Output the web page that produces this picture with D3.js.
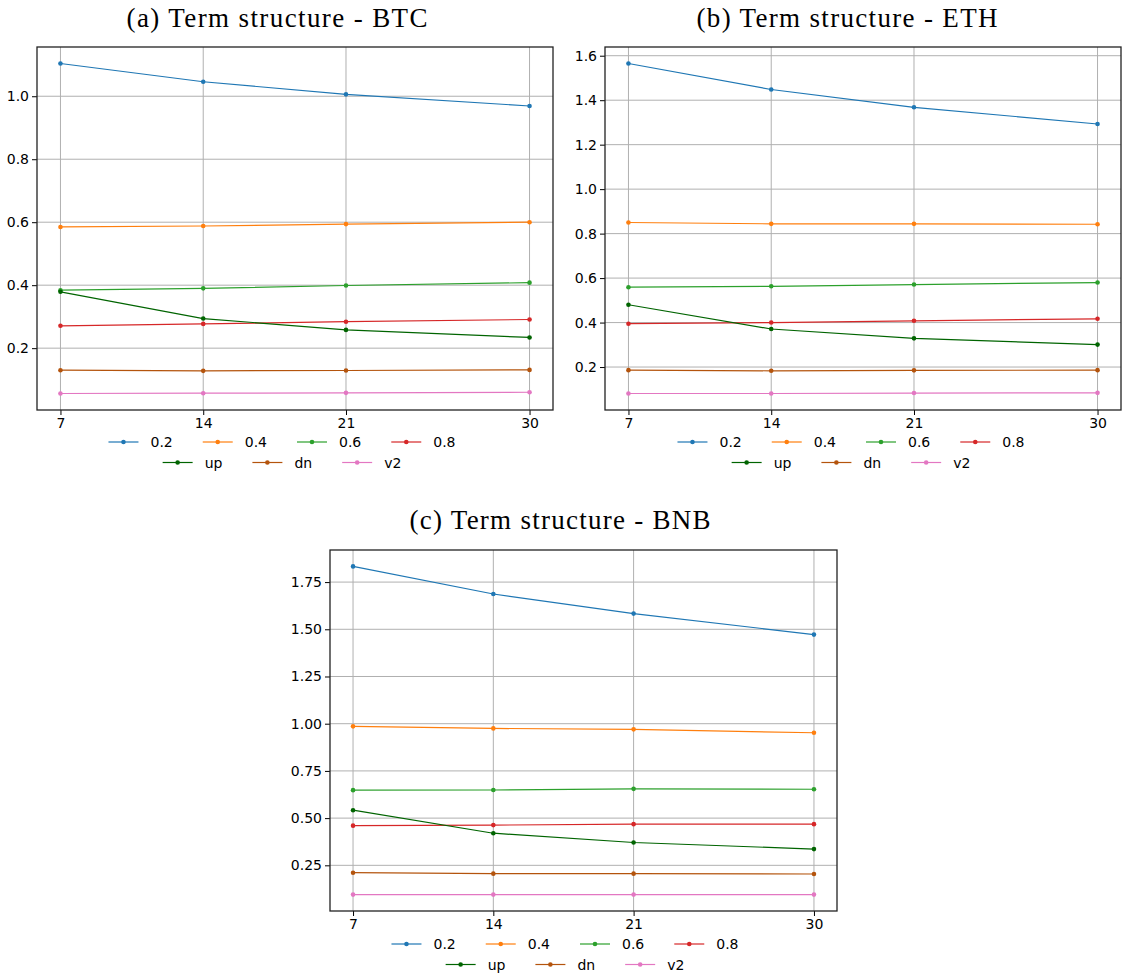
<!DOCTYPE html>
<html>
<head>
<meta charset="utf-8">
<script src="https://cdn.jsdelivr.net/npm/d3@7"></script>
<style>
  body { margin: 0; background: #fff; }
  svg { display: block; }
  .tick text { font-family: "DejaVu Sans", sans-serif; font-size: 14px; fill: #000; }
</style>
</head>
<body>
<svg id="fig" width="1123" height="978"></svg>
<script>
// maturities (days)
const maturities = [7, 14, 21, 30];
const seriesNames = ['0.2', '0.4', '0.6', '0.8', 'up', 'dn', 'v2'];
const seriesColors = ['#1f77b4', '#ff7f0e', '#2ca02c', '#d62728', '#006400', '#b4540d', '#e377c2'];

// BTC
const btc02 = [1.104, 1.046, 1.006, 0.969];
const btc04 = [0.585, 0.588, 0.594, 0.600];
const btc06 = [0.384, 0.390, 0.399, 0.408];
const btc08 = [0.271, 0.277, 0.284, 0.291];
const btcUp = [0.379, 0.294, 0.258, 0.234];
const btcDn = [0.130, 0.128, 0.129, 0.131];
const btcV2 = [0.056, 0.057, 0.058, 0.060];

// ETH
const eth02 = [1.565, 1.448, 1.368, 1.293];
const eth04 = [0.850, 0.844, 0.844, 0.842];
const eth06 = [0.559, 0.563, 0.571, 0.580];
const eth08 = [0.395, 0.400, 0.408, 0.417];
const ethUp = [0.480, 0.371, 0.329, 0.301];
const ethDn = [0.186, 0.183, 0.185, 0.186];
const ethV2 = [0.081, 0.081, 0.083, 0.084];

// BNB
const bnb02 = [1.833, 1.687, 1.583, 1.472];
const bnb04 = [0.986, 0.975, 0.970, 0.952];
const bnb06 = [0.648, 0.649, 0.655, 0.653];
const bnb08 = [0.460, 0.463, 0.468, 0.468];
const bnbUp = [0.542, 0.420, 0.371, 0.336];
const bnbDn = [0.211, 0.206, 0.206, 0.204];
const bnbV2 = [0.095, 0.095, 0.095, 0.095];

const btcTicks = [0.2, 0.4, 0.6, 0.8, 1.0];
const ethTicks = [0.2, 0.4, 0.6, 0.8, 1.0, 1.2, 1.4, 1.6];
const bnbTicks = [0.25, 0.5, 0.75, 1.0, 1.25, 1.5, 1.75];

const panels = [
  { title: '(a) Term structure - BTC', series: [btc02, btc04, btc06, btc08, btcUp, btcDn, btcV2],
    yTicks: btcTicks, yFmt: d3.format('.1f'),
    box: { x0: 37, x1: 553, y0: 47, y1: 410 }, titleX: 277, titleY: 27, legendX: 282, legendY: 442 },
  { title: '(b) Term structure - ETH', series: [eth02, eth04, eth06, eth08, ethUp, ethDn, ethV2],
    yTicks: ethTicks, yFmt: d3.format('.1f'),
    box: { x0: 605, x1: 1121, y0: 47, y1: 410 }, titleX: 847, titleY: 27, legendX: 851, legendY: 442 },
  { title: '(c) Term structure - BNB', series: [bnb02, bnb04, bnb06, bnb08, bnbUp, bnbDn, bnbV2],
    yTicks: bnbTicks, yFmt: d3.format('.2f'),
    box: { x0: 330, x1: 837, y0: 550, y1: 911 }, titleX: 560, titleY: 529, legendX: 565, legendY: 944 }
];

const svg = d3.select('#fig');

function padded(lo, hi) {
  const m = (hi - lo) * 0.05;
  return [lo - m, hi + m];
}

panels.forEach(p => {
  const b = p.box;
  const g = svg.append('g');

  const x = d3.scaleLinear()
    .domain(padded(d3.min(maturities), d3.max(maturities)))
    .range([b.x0, b.x1]);
  const allVals = p.series.flat();
  const y = d3.scaleLinear()
    .domain(padded(d3.min(allVals), d3.max(allVals)))
    .range([b.y1, b.y0]);

  // grid
  g.append('g').selectAll('line').data(maturities).join('line')
    .attr('x1', d => x(d)).attr('x2', d => x(d))
    .attr('y1', b.y0).attr('y2', b.y1)
    .attr('stroke', '#b0b0b0').attr('stroke-width', 1);
  g.append('g').selectAll('line').data(p.yTicks).join('line')
    .attr('x1', b.x0).attr('x2', b.x1)
    .attr('y1', d => y(d)).attr('y2', d => y(d))
    .attr('stroke', '#b0b0b0').attr('stroke-width', 1);

  // axes
  const xAxis = g.append('g')
    .attr('transform', `translate(0,${b.y1})`)
    .call(d3.axisBottom(x).tickValues(maturities).tickFormat(d3.format('d')).tickSize(5).tickPadding(3));
  const yAxis = g.append('g')
    .attr('transform', `translate(${b.x0},0)`)
    .call(d3.axisLeft(y).tickValues(p.yTicks).tickFormat(p.yFmt).tickSize(5).tickPadding(3));
  [xAxis, yAxis].forEach(a => {
    a.select('.domain').remove();
    a.selectAll('.tick line').attr('stroke', '#000').attr('stroke-width', 1);
  });

  // lines
  const line = d3.line().x((d, i) => x(maturities[i])).y(d => y(d));
  p.series.forEach((s, k) => {
    g.append('path').datum(s)
      .attr('d', line)
      .attr('fill', 'none')
      .attr('stroke', seriesColors[k])
      .attr('stroke-width', 1.2);
    g.append('g').selectAll('circle').data(s).join('circle')
      .attr('cx', (d, i) => x(maturities[i]))
      .attr('cy', d => y(d))
      .attr('r', 2.3)
      .attr('fill', seriesColors[k]);
  });

  // frame
  g.append('rect')
    .attr('x', b.x0).attr('y', b.y0)
    .attr('width', b.x1 - b.x0).attr('height', b.y1 - b.y0)
    .attr('fill', 'none').attr('stroke', '#222').attr('stroke-width', 1.3);

  // title (serif, spaced out a little like Computer Modern)
  g.append('text')
    .attr('x', p.titleX).attr('y', p.titleY)
    .attr('text-anchor', 'middle')
    .attr('font-family', '"Liberation Serif", "DejaVu Serif", serif')
    .attr('font-size', 27)
    .attr('textLength', 301)
    .attr('lengthAdjust', 'spacing')
    .text(p.title);

  // legend: two centred rows
  const rows = [seriesNames.slice(0, 4), seriesNames.slice(4)];
  rows.forEach((row, r) => {
    const ly = p.legendY + r * 20.5;
    const lg = g.append('g');
    let cx = 0;
    row.forEach(name => {
      const k = seriesNames.indexOf(name);
      const item = lg.append('g').attr('transform', `translate(${cx},0)`);
      item.append('line').attr('x1', 0).attr('x2', 30).attr('y1', 0).attr('y2', 0)
        .attr('stroke', seriesColors[k]).attr('stroke-width', 1.2);
      item.append('circle').attr('cx', 15).attr('cy', 0).attr('r', 2.3).attr('fill', seriesColors[k]);
      const t = item.append('text').attr('x', 42).attr('y', 5)
        .attr('font-family', '"DejaVu Sans", sans-serif').attr('font-size', 14)
        .text(name);
      cx += 42 + t.node().getComputedTextLength() + 30;
    });
    const w = cx - 30;
    lg.attr('transform', `translate(${p.legendX - w / 2},${ly})`);
  });
});
</script>
</body>
</html>
